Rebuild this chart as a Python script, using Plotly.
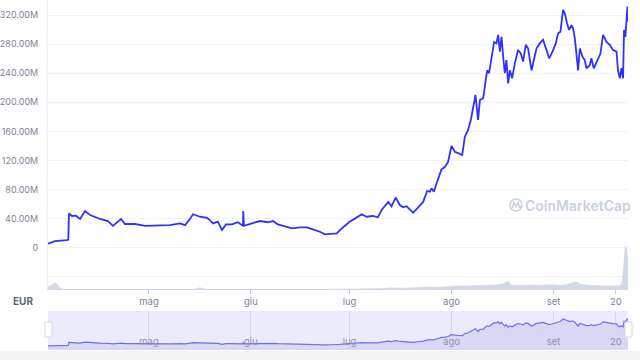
import plotly.graph_objects as go

# ---------------- data ----------------
price_time = [
    "2021-03-31 07:00", "2021-04-02 10:00", "2021-04-05 23:00", "2021-04-06 11:00", "2021-04-06 16:00",
    "2021-04-07 14:00", "2021-04-08 19:00", "2021-04-10 01:00", "2021-04-11 13:00", "2021-04-13 02:00",
    "2021-04-16 03:00", "2021-04-18 13:00", "2021-04-20 01:00", "2021-04-22 12:00", "2021-04-23 17:00",
    "2021-04-26 18:00", "2021-04-29 19:00", "2021-05-04 08:00", "2021-05-07 09:00", "2021-05-10 10:00",
    "2021-05-11 23:00", "2021-05-13 11:00", "2021-05-14 09:00", "2021-05-16 12:00", "2021-05-18 15:00",
    "2021-05-19 13:00", "2021-05-20 11:00", "2021-05-21 23:00", "2021-05-23 05:00", "2021-05-24 10:00",
    "2021-05-26 05:00", "2021-05-28 01:00", "2021-05-29 14:00", "2021-05-29 16:00", "2021-05-29 21:00",
    "2021-06-01 07:00", "2021-06-03 18:00", "2021-06-06 04:00", "2021-06-07 17:00", "2021-06-09 05:00",
    "2021-06-11 08:00", "2021-06-13 11:00", "2021-06-15 22:00", "2021-06-18 00:00", "2021-06-19 20:00",
    "2021-06-21 23:00", "2021-06-23 12:00", "2021-06-25 15:00", "2021-06-27 03:00", "2021-06-28 01:00",
    "2021-06-29 14:00", "2021-07-01 02:00", "2021-07-02 15:00", "2021-07-04 16:00", "2021-07-06 04:00",
    "2021-07-08 02:00", "2021-07-09 14:00", "2021-07-10 18:00", "2021-07-12 18:00", "2021-07-13 18:00",
    "2021-07-15 00:00", "2021-07-16 07:00", "2021-07-17 07:00", "2021-07-18 08:00", "2021-07-20 08:00",
    "2021-07-21 20:00", "2021-07-23 09:00", "2021-07-24 14:00", "2021-07-25 10:00", "2021-07-25 22:00",
    "2021-07-26 15:00", "2021-07-27 15:00", "2021-07-28 23:00", "2021-07-29 23:00", "2021-07-30 23:00",
    "2021-08-01 00:00", "2021-08-02 00:00", "2021-08-03 00:00", "2021-08-04 06:00", "2021-08-05 01:00",
    "2021-08-06 01:00", "2021-08-06 21:00", "2021-08-07 14:00", "2021-08-08 07:00", "2021-08-09 02:00",
    "2021-08-09 15:00", "2021-08-10 15:00", "2021-08-11 08:00", "2021-08-11 20:00", "2021-08-12 10:00",
    "2021-08-13 04:00", "2021-08-13 23:00", "2021-08-14 16:00", "2021-08-15 04:00", "2021-08-15 17:00",
    "2021-08-16 05:00", "2021-08-16 17:00", "2021-08-17 05:00", "2021-08-17 17:00", "2021-08-18 05:00",
    "2021-08-18 18:00", "2021-08-19 10:00", "2021-08-20 06:00", "2021-08-21 06:00", "2021-08-22 02:00",
    "2021-08-22 18:00", "2021-08-23 14:00", "2021-08-24 07:00", "2021-08-25 08:00", "2021-08-26 03:00",
    "2021-08-26 20:00", "2021-08-27 20:00", "2021-08-28 20:00", "2021-08-29 21:00", "2021-08-30 16:00",
    "2021-08-31 17:00", "2021-09-01 17:00", "2021-09-02 10:00", "2021-09-03 03:00", "2021-09-03 22:00",
    "2021-09-04 11:00", "2021-09-05 03:00", "2021-09-05 18:00", "2021-09-06 12:00", "2021-09-06 23:00",
    "2021-09-07 12:00", "2021-09-08 00:00", "2021-09-08 12:00", "2021-09-09 00:00", "2021-09-09 20:00",
    "2021-09-10 12:00", "2021-09-11 01:00", "2021-09-12 01:00", "2021-09-12 13:00", "2021-09-13 06:00",
    "2021-09-14 06:00", "2021-09-15 07:00", "2021-09-16 02:00", "2021-09-17 03:00", "2021-09-18 03:00",
    "2021-09-19 03:00", "2021-09-20 04:00", "2021-09-20 15:00", "2021-09-21 04:00", "2021-09-21 16:00",
    "2021-09-22 04:00", "2021-09-22 11:00", "2021-09-22 21:00", "2021-09-23 12:00", "2021-09-23 16:00",
]
price_meur = [
    5.5, 9, 10.5, 11, 47,
    43.6, 44, 39.5, 50.5, 45,
    39.5, 36.7, 30, 39.5, 32.6,
    32.6, 30, 31, 31, 33.5,
    31, 39.5, 46, 42.6, 41,
    38, 33.5, 35.8, 24.3, 32,
    32, 35, 30, 50.5, 30,
    33.5, 36.7, 35, 36.7, 32,
    29, 26.7, 28, 28, 25.3,
    22, 18.4, 19.8, 19.8, 24.3,
    30, 36, 40, 46, 42.6,
    43.6, 41.8, 51.9, 63, 57,
    69, 58.7, 55.6, 57, 48,
    55.6, 63, 78, 77, 81.7,
    77, 90.8, 107.8, 111, 118,
    140, 132, 130, 127.5, 152.7,
    162, 175.6, 196, 210, 175.6,
    203, 205.5, 230.7, 244, 240,
    260.5, 283, 281, 292.6, 269.6,
    290, 262.7, 240, 258, 226,
    244, 233, 253.6, 272, 267,
    256, 279, 274, 244, 260.5,
    274, 281, 286, 272, 260.5,
    269.6, 281, 295, 297, 327,
    322, 308.7, 299.5, 306, 301.8,
    288, 260.5, 244, 274, 262.7,
    258, 246.8, 251, 260.5, 246.8,
    258, 267, 292.6, 283, 279,
    272, 269.6, 244, 233, 246.8,
    233, 299.5, 290, 331.6, 311,
]

volume_time = [
    "2021-03-31 07:00", "2021-04-01 12:00", "2021-04-02 06:00", "2021-04-03 00:00", "2021-04-03 18:00",
    "2021-04-04 12:00", "2021-05-15 12:00", "2021-05-16 12:00", "2021-05-17 12:00", "2021-07-10 00:00",
    "2021-07-14 00:00", "2021-07-18 00:00", "2021-07-22 00:00", "2021-07-25 00:00", "2021-07-28 00:00",
    "2021-07-31 00:00", "2021-08-03 00:00", "2021-08-06 00:00", "2021-08-09 00:00", "2021-08-12 00:00",
    "2021-08-15 00:00", "2021-08-17 00:00", "2021-08-18 06:00", "2021-08-19 00:00", "2021-08-22 00:00",
    "2021-08-25 00:00", "2021-08-28 00:00", "2021-08-31 00:00", "2021-09-03 00:00", "2021-09-05 00:00",
    "2021-09-07 00:00", "2021-09-08 00:00", "2021-09-09 00:00", "2021-09-12 00:00", "2021-09-15 00:00",
    "2021-09-18 00:00", "2021-09-20 00:00", "2021-09-21 12:00", "2021-09-22 04:00", "2021-09-22 23:00",
    "2021-09-23 16:00",
]
volume_meur = [
    0.7, 1.4, 2.1, 1.7, 0.7,
    0.1, 0.05, 0.5, 0.05, 0.2,
    0.4, 0.3, 0.5, 0.7, 0.6,
    0.9, 1.0, 1.1, 1.2, 1.3,
    1.5, 2.0, 2.8, 1.6, 1.3,
    1.4, 1.3, 1.5, 1.3, 1.6,
    2.2, 2.4, 1.8, 1.3, 1.1,
    1.0, 1.1, 1.5, 6.0, 14.8,
    10.0,
]

month_ticks = ["2021-05-01", "2021-06-01", "2021-07-01", "2021-08-01", "2021-09-01", "2021-09-20"]
month_labels = ["mag", "giu", "lug", "ago", "set", "20"]
price_ticks = [-40, 0, 40, 80, 120, 160, 200, 240, 280, 320]
price_tick_labels = ["", "0", "40.00M", "80.00M", "120.00M", "160.00M", "200.00M",
                     "240.00M", "280.00M", "320.00M"]

# ---------------- style ----------------
FONT = "Inter"
LABEL = "#7d8599"
GRID = "#eff1f5"
LINE = "#3030ff"
x_range = [price_time[0], price_time[-1]]

fig = go.Figure()

fig.add_trace(go.Scatter(
    x=volume_time, y=volume_meur, xaxis="x", yaxis="y2", mode="lines",
    line=dict(color="#cfd5e3", width=0.5, shape="spline"), fill="tozeroy",
    fillcolor="#d3d9e6", hoverinfo="skip", showlegend=False))

fig.add_trace(go.Scatter(
    x=price_time, y=price_meur, xaxis="x", yaxis="y", mode="lines",
    line=dict(color=LINE, width=1.8), showlegend=False))

fig.add_trace(go.Scatter(
    x=price_time, y=price_meur, xaxis="x2", yaxis="y3", mode="lines",
    line=dict(color="#7070f4", width=1.2), fill="tozeroy",
    fillcolor="#d8d8f6", hoverinfo="skip", showlegend=False))

main_dom = [61 / 350, 1.0]
nav_dom = [0.0, 39 / 350]

fig.update_layout(
    width=640, height=360,
    margin=dict(l=48, r=12, t=0, b=10, autoexpand=False),
    paper_bgcolor="white", plot_bgcolor="white",
    font=dict(family=FONT, size=10, color=LABEL),
    xaxis=dict(domain=[0, 1], anchor="y", range=x_range, type="date",
               tickvals=month_ticks, ticktext=month_labels, automargin=False,
               showgrid=False, showline=True, linecolor="#cfd5e3", linewidth=1,
               ticks="outside", ticklen=4, tickcolor="#c6ccda",
               tickfont=dict(size=9.5, color=LABEL), zeroline=False),
    yaxis=dict(domain=main_dom, anchor="x", range=[-56.8, 340.7], automargin=False,
               tickvals=price_ticks, ticktext=price_tick_labels,
               showgrid=True, gridcolor=GRID, gridwidth=1, zeroline=False,
               showline=True, linecolor=GRID, ticks="", ticklabelstandoff=7,
               tickfont=dict(size=9, color=LABEL)),
    yaxis2=dict(domain=main_dom, anchor="x", overlaying="y", range=[0, 100],
                visible=False),
    xaxis2=dict(domain=[0, 1], anchor="y3", range=x_range, type="date",
                tickvals=month_ticks, ticktext=month_labels, automargin=False,
                ticklabelposition="inside", ticks="",
                showgrid=True, gridcolor="#d6d6f2", showline=False, zeroline=False,
                tickfont=dict(size=9.5, color="#8c92a6")),
    yaxis3=dict(domain=nav_dom, anchor="x2", range=[-43, 422], automargin=False,
                showgrid=False, showticklabels=False, zeroline=False, showline=False),
)

wx = lambda px: (px - 48) / 580
wy = lambda py: (350 - py) / 350

shapes = [
    dict(type="rect", xref="x2 domain", yref="y3 domain", x0=0, x1=1, y0=0, y1=1,
         fillcolor="#ebebfb", line=dict(width=0), layer="below"),
    dict(type="rect", xref="x2 domain", yref="y3", x0=0, x1=1, y0=-43, y1=0,
         fillcolor="#d8d8f6", line=dict(width=0), layer="below"),
    dict(type="rect", xref="paper", yref="paper", x0=-0.1, x1=1.03, y0=-0.03, y1=-0.003,
         fillcolor="#f3f3f4", line=dict(width=0), layer="below"),
    dict(type="rect", xref="paper", yref="paper", x0=wx(45), x1=wx(52), y0=wy(337), y1=wy(322),
         fillcolor="white", line=dict(color="#d3d7e2", width=1)),
    dict(type="rect", xref="paper", yref="paper", x0=wx(625), x1=wx(632), y0=wy(337), y1=wy(322),
         fillcolor="white", line=dict(color="#d3d7e2", width=1)),
    dict(type="circle", xref="paper", yref="paper", x0=wx(510), x1=wx(522),
         y0=wy(211), y1=wy(199), line=dict(color="#cad1e2", width=1.6)),
    dict(type="path", xref="paper", yref="paper",
         path=(f"M {wx(512.5)} {wy(208)} L {wx(514)} {wy(202.5)} L {wx(516)} {wy(206.5)} "
               f"L {wx(518)} {wy(202.5)} L {wx(519.5)} {wy(207.5)} L {wx(521)} {wy(206.5)}"),
         line=dict(color="#cad1e2", width=1.6)),
]
fig.update_layout(shapes=shapes)

fig.add_annotation(text="CoinMarketCap", xref="paper", yref="paper",
                   x=wx(523), y=wy(205.5), xanchor="left", yanchor="middle", showarrow=False,
                   font=dict(family=FONT, size=14, color="#cad1e2", weight=600))
fig.add_annotation(text="<b>EUR</b>", xref="paper", yref="paper",
                   x=wx(22.5), y=wy(301), xanchor="center", yanchor="middle", showarrow=False,
                   font=dict(family=FONT, size=10, color="#58667e"))

fig.write_html("out.html", config={"displayModeBar": False},
               post_script="document.body.style.margin='0px';document.body.style.overflow='hidden';")
